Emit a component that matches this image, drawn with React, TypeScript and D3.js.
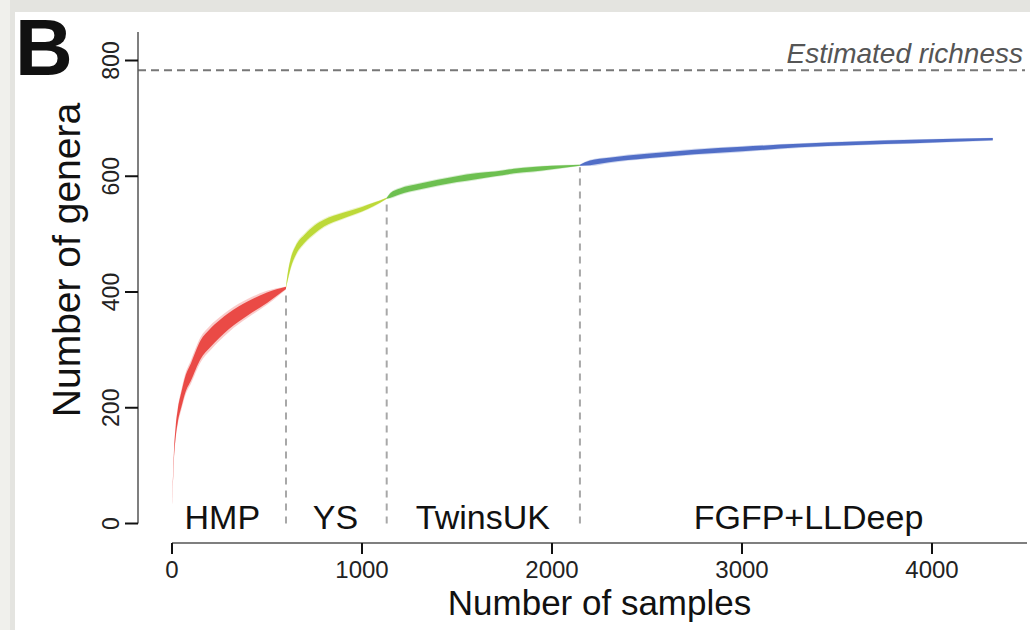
import React from "react";
import * as d3 from "d3";

// rarefaction bands: [samples, genera (centre), half spread]
const hmpBand = [
  [1, 35, 2], [10, 115, 6], [20, 160, 9], [30, 185, 11], [50, 215, 13], [70, 240, 14],
  [100, 262, 15], [150, 300, 16], [200, 320, 16], [250, 336, 15], [300, 350, 14],
  [400, 372, 12], [500, 390, 9], [600, 407, 2],
];
const ysBand = [
  [600, 408, 1], [610, 428, 6], [625, 450, 8], [650, 471, 8], [700, 493, 7],
  [750, 508, 7], [800, 519, 6], [900, 532, 5], [1000, 543, 4], [1060, 551, 3],
  [1130, 562, 1],
];
const twinsBand = [
  [1130, 562, 1], [1150, 567, 4], [1200, 574, 5], [1300, 582, 5], [1400, 589, 5],
  [1500, 595, 5], [1600, 600, 5], [1700, 604, 4], [1800, 609, 4], [1900, 612, 4],
  [2000, 615, 3], [2147, 619, 1],
];
const fgfpBand = [
  [2147, 619, 1], [2200, 623, 4], [2300, 628, 4], [2500, 635, 4], [2750, 642, 4],
  [3000, 647, 4], [3300, 653, 3], [3600, 657, 3], [3900, 660, 3], [4320, 664, 2],
];

const cohorts = ["HMP", "YS", "TwinsUK", "FGFP+LLDeep"];
const cohortColours = ["#e8322f", "#b5d41f", "#5bb73a", "#3b5cbf"];
const cohortLabelX = [265, 860, 1636, 3350];
const boundaries = [600, 1130, 2147];
const boundaryTop = [407, 562, 619];
const estimatedRichness = 783;
const xTicks = [0, 1000, 2000, 3000, 4000];
const yTicks = [0, 200, 400, 600, 800];

const W = 1030, H = 630;
const font = "'Liberation Sans', Arial, Helvetica, sans-serif";

export default function App() {
  const x = d3.scaleLinear().domain([0, 4500]).range([172, 1027]);
  const y = d3.scaleLinear().domain([0, 800]).range([523.5, 60.5]);
  const bands = [hmpBand, ysBand, twinsBand, fgfpBand];

  const area = (k: number) =>
    d3
      .area<number[]>()
      .x((d) => x(d[0]))
      .y0((d) => y(d[1] - d[2] * k))
      .y1((d) => y(d[1] + d[2] * k))
      .curve(d3.curveMonotoneX);

  const x0 = 138; // y axis position
  const yAxisBase = 543; // x axis position

  return (
    <svg width={W} height={H} style={{ position: "absolute", left: 0, top: 0 }} fontFamily={font}>
      {/* figure frame */}
      <rect x={0} y={0} width={W} height={H} fill="#e4e4e0" />
      <rect x={0} y={0} width={10} height={H} fill="#f0f0ec" />
      <rect x={15} y={12} width={W - 15} height={H - 12} fill="#ffffff" />

      <text x={15} y={75} fontSize={80} fontWeight="bold" fill="#111">B</text>

      {/* estimated richness */}
      <line x1={x0} x2={1025} y1={y(estimatedRichness)} y2={y(estimatedRichness)}
        stroke="#777" strokeWidth={2} strokeDasharray="8,5" />
      <text x={1023} y={63} textAnchor="end" fontSize={28} fontStyle="italic" fill="#555">
        Estimated richness
      </text>

      {/* cohort boundaries */}
      {boundaries.map((b, i) => (
        <line key={b} x1={x(b)} x2={x(b)} y1={y(0)} y2={y(boundaryTop[i]) + 2}
          stroke="#a8a8a8" strokeWidth={2} strokeDasharray="7,6" />
      ))}

      {/* rarefaction bands: faint halo + dense core */}
      {bands.map((band, i) => (
        <g key={cohorts[i]}>
          <path d={area(1.35)(band) ?? ""} fill={cohortColours[i]} fillOpacity={0.25} />
          <path d={area(1)(band) ?? ""} fill={cohortColours[i]} fillOpacity={0.85} />
        </g>
      ))}

      {/* cohort labels */}
      {cohorts.map((c, i) => (
        <text key={c} x={x(cohortLabelX[i])} y={y(0) + 5} textAnchor="middle" fontSize={34} fill="#111">
          {c}
        </text>
      ))}

      {/* y axis */}
      <line x1={x0} x2={x0} y1={y(0)} y2={32} stroke="#555" strokeWidth={1.5} />
      {yTicks.map((t) => (
        <g key={t}>
          <line x1={x0 - 13} x2={x0} y1={y(t)} y2={y(t)} stroke="#111" strokeWidth={2} />
          <text transform={`translate(119,${y(t)}) rotate(-90)`} textAnchor="middle" fontSize={23} fill="#222">
            {t}
          </text>
        </g>
      ))}
      <text transform={`translate(80,260) rotate(-90)`} textAnchor="middle" fontSize={39} fill="#111">
        Number of genera
      </text>

      {/* x axis */}
      <line x1={x(0)} x2={x(4500)} y1={yAxisBase} y2={yAxisBase} stroke="#555" strokeWidth={1.5} />
      {xTicks.map((t) => (
        <g key={t}>
          <line x1={x(t)} x2={x(t)} y1={yAxisBase} y2={yAxisBase + 11} stroke="#111" strokeWidth={2} />
          <text x={x(t)} y={578} textAnchor="middle" fontSize={24} fill="#222">{t}</text>
        </g>
      ))}
      <text x={x(2250)} y={615} textAnchor="middle" fontSize={35} fill="#111">
        Number of samples
      </text>
    </svg>
  );
}
